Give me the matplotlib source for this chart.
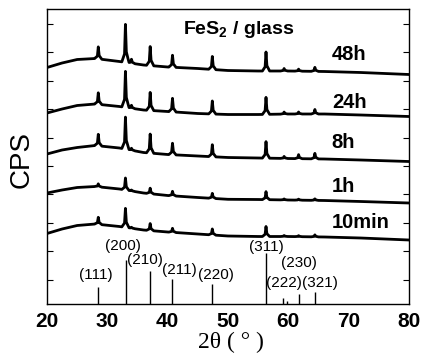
import numpy as np
import matplotlib
matplotlib.use("Agg")
import matplotlib.pyplot as plt

plt.rcParams['font.family'] = ['Liberation Sans', 'DejaVu Sans']
plt.rcParams['mathtext.fontset'] = 'custom'
plt.rcParams['mathtext.rm'] = 'Liberation Sans'
plt.rcParams['mathtext.bf'] = 'Liberation Sans:bold'

# ---- data (arbitrary intensity units, traces already offset) ----
base_x = [20, 22.5, 25, 28, 32, 36, 40, 45, 50, 55, 60, 66, 72, 80]
base_48h = [236.5, 241, 244.5, 245.5, 242.5, 239, 237, 235.5, 233.5, 233, 233, 232.5, 231.5, 229.5]
base_24h = [191, 195, 198.5, 200, 197.5, 194, 192.5, 190.5, 189.5, 189.5, 190, 190, 189, 187.5]
base_8h = [150, 154, 156.5, 158.5, 156, 151.5, 149.5, 148, 146.5, 146, 145.5, 145, 144, 142.5]
base_1h = [111, 114, 116.5, 117.5, 115, 111, 108.5, 106.5, 104.7, 104.5, 104, 103.5, 102.5, 101]
base_10min = [70.5, 75, 78.5, 80, 77.5, 74, 72, 70, 68, 67.5, 67.5, 67, 66, 64]

peak_pos = [28.5, 33.0, 34.0, 37.1, 40.8, 47.4, 56.3, 59.3, 61.7, 64.4]
peaks_48h = [12, 38, 4, 19, 12, 13, 19, 2.5, 2, 4]
peaks_24h = [11.5, 36, 3, 18, 13.5, 13, 17, 2, 2, 4.5]
peaks_8h = [11.5, 32, 2, 19, 11.5, 12, 16.5, 2, 4, 5.5]
peaks_1h = [3, 12, 1, 5.5, 4.5, 5, 8, 1, 1, 1.5]
peaks_10min = [7, 19, 1, 7, 4, 6, 10, 1, 1, 2]

trace_labels = ["48h", "24h", "8h", "1h", "10min"]
bases = [base_48h, base_24h, base_8h, base_1h, base_10min]
peak_sets = [peaks_48h, peaks_24h, peaks_8h, peaks_1h, peaks_10min]

stick_pos = [28.5, 33.05, 37.1, 40.8, 47.4, 56.3, 59.1, 59.8, 61.7, 64.4]
stick_int = [17.3, 44, 33, 25.3, 20, 50.7, 6.3, 3, 9.7, 11.7]

hkl_labels = ["(111)", "(200)", "(210)", "(211)", "(220)", "(311)", "(222)", "(230)", "(321)"]
hkl_x = [28.1, 32.6, 36.3, 42.0, 48.0, 56.3, 59.2, 61.8, 65.2]
hkl_y = [29, 58.3, 44, 34, 29, 57.3, 20.7, 40.7, 20.7]

# ---- figure ----
fig = plt.figure(figsize=(4.22, 3.53), dpi=100)
ax = fig.add_axes([47/422, 1-304/353, (409-47)/422, (304-9)/353])

prof_dx = np.array([-0.6, -0.15, 0.0, 0.15, 0.6])
prof_f = np.array([0.0, 0.22, 1.0, 0.28, 0.0])

for lab, base, pk in zip(trace_labels, bases, peak_sets):
    xs = set(base_x)
    for p in peak_pos:
        xs.update((p + prof_dx).tolist())
    x = np.array(sorted(xs))
    y = np.interp(x, base_x, base)
    for p, h in zip(peak_pos, pk):
        y = y + np.interp(x, p + prof_dx, h * prof_f, left=0, right=0)
    ax.plot(x, y, color='black', lw=2.0, solid_joinstyle='round')

ax.vlines(stick_pos, 0, stick_int, color='black', lw=1.0)
for t, xx, yy in zip(hkl_labels, hkl_x, hkl_y):
    ax.text(xx, yy, t, ha='center', va='center', fontsize=11)

label_y = [249, 201, 162, 117, 81]
for lab, yy in zip(trace_labels, label_y):
    ax.text(67.2, yy, lab, ha='left', va='center', fontsize=14.5, fontweight='bold')

ax.text(51.8, 274, r"FeS$_\mathbf{2}$ / glass", ha='center', va='center',
        fontsize=14, fontweight='bold')

ax.set_xlim(20, 80)
ax.set_ylim(0, 295)
ax.set_xticks([20, 30, 40, 50, 60, 70, 80])
ax.set_yticks(np.arange(24.4, 290, 28.4))
ax.tick_params(axis='y', direction='in', length=4, left=True, right=True,
               labelleft=False, width=0.8)
ax.tick_params(axis='x', length=0, pad=6, labelsize=15)
for lbl in ax.get_xticklabels():
    lbl.set_fontweight('bold')
for s in ax.spines.values():
    s.set_linewidth(1.0)

fig.text(22/422, 1-160/353, "CPS", rotation=90, ha='center', va='center', fontsize=20)
fig.text(231/422, 1-342/353, "2θ ( ° )", ha='center', va='center', fontsize=17,
         family=['Liberation Serif', 'DejaVu Serif'])

fig.savefig("out.png", dpi=100)
